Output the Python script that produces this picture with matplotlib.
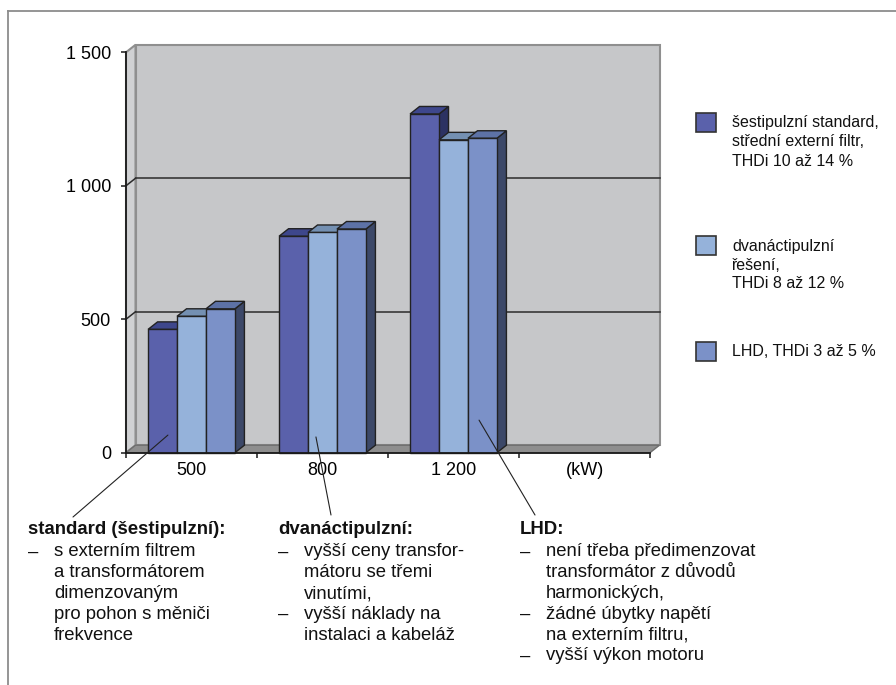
import matplotlib
matplotlib.use("Agg")
import matplotlib.pyplot as plt
from matplotlib.patches import Polygon, Rectangle
from matplotlib.lines import Line2D

plt.rcParams['font.family'] = ['Liberation Sans', 'DejaVu Sans']

# ---- data -------------------------------------------------------------
power_labels = ["500", "800", "1 200"]
unit_label = "(kW)"
series_labels = [
    "šestipulzní standard,\nstřední externí filtr,\nTHDi 10 až 14 %",
    "dvanáctipulzní\nřešení,\nTHDi 8 až 12 %",
    "LHD, THDi 3 až 5 %",
]
six_pulse_vals = [462, 811, 1269]
twelve_pulse_vals = [511, 825, 1172]
lhd_vals = [539, 838, 1178]
y_ticks = [0, 500, 1000, 1500]
y_tick_labels = ["0", "500", "1 000", "1 500"]

notes_standard = ["standard (šestipulzní):",
                  "–\ts externím filtrem", "\ta transformátorem", "\tdimenzovaným",
                  "\tpro pohon s měniči", "\tfrekvence"]
notes_twelve = ["dvanáctipulzní:",
                "–\tvyšší ceny transfor-", "\tmátoru se třemi", "\tvinutími,",
                "–\tvyšší náklady na", "\tinstalaci a kabeláž"]
notes_lhd = ["LHD:",
             "–\tnení třeba předimenzovat", "\ttransformátor z důvodů", "\tharmonických,",
             "–\tžádné úbytky napětí", "\tna externím filtru,", "–\tvyšší výkon motoru"]

# ---- styling ----------------------------------------------------------
front_colors = ["#5a61ab", "#95b2da", "#7b91c8"]
top_colors = ["#3e478c", "#7490b2", "#5d72a6"]
side_colors = ["#2c3262", "#5b6f92", "#3c4868"]
edge = "#222222"

W, H = 896, 685
fig = plt.figure(figsize=(W / 100, H / 100), dpi=100)


def fx(px):
    return px / W


def fy(py):
    return 1 - py / H


ax = fig.add_axes([fx(126), fy(452.7), 524 / W, 400.4 / H])
ncat = len(power_labels) + 1
x0, x1 = -0.5, ncat - 0.5
ax.set_xlim(x0, x1)
ax.set_ylim(y_ticks[0], y_ticks[-1])
ax.patch.set_visible(False)
for name, sp in ax.spines.items():
    if name in ("left", "bottom"):
        sp.set_color("#1a1a1a")
        sp.set_linewidth(1.3)
        sp.set_zorder(20)
    else:
        sp.set_visible(False)

# depth of the pseudo-3D box, converted to data units
o = ax.transData.transform((0, 0))
dpt = ax.transData.inverted().transform((o[0] + 9.5, o[1] + 7.5))
dx, dy = dpt[0], dpt[1]
ytop = y_ticks[-1]

wall_edge = "#8f8f8f"
ax.add_patch(Rectangle((x0 + dx, dy), x1 - x0, ytop, facecolor="#c6c7c9",
                       edgecolor=wall_edge, lw=1.5, zorder=0, clip_on=False))
ax.add_patch(Polygon([(x0, 0), (x0, ytop), (x0 + dx, ytop + dy), (x0 + dx, dy)],
                     closed=True, facecolor="#d0d1d3", edgecolor=wall_edge, lw=1.5,
                     zorder=0.5, clip_on=False))
ax.add_patch(Polygon([(x0, 0), (x1, 0), (x1 + dx, dy), (x0 + dx, dy)],
                     closed=True, facecolor="#8e8e8e", edgecolor="#6e6e6e", lw=1.0,
                     zorder=1, clip_on=False))
for v in y_ticks[1:-1]:
    ax.plot([x0 + dx, x1 + dx], [v + dy, v + dy], color="#2b2b2b", lw=1.1,
            zorder=1, clip_on=False)
    ax.plot([x0, x0 + dx], [v, v + dy], color="#2b2b2b", lw=1.1, zorder=1,
            clip_on=False)

# bars
series = [six_pulse_vals, twelve_pulse_vals, lhd_vals]
w = 0.221
offsets = [-w, 0, w]
cat_x = list(range(len(power_labels)))
for s, vals in enumerate(series):
    zb = 3 + 2 * s
    for i, h in zip(cat_x, vals):
        xl = i + offsets[s] - w / 2
        xr = xl + w
        ax.add_patch(Polygon([(xr, 0), (xr, h), (xr + dx, h + dy), (xr + dx, dy)],
                             closed=True, facecolor=side_colors[s], edgecolor=edge,
                             lw=1.0, zorder=zb, clip_on=False))
        ax.add_patch(Polygon([(xl, h), (xr, h), (xr + dx, h + dy), (xl + dx, h + dy)],
                             closed=True, facecolor=top_colors[s], edgecolor=edge,
                             lw=1.0, zorder=zb, clip_on=False))
    ax.bar([i + offsets[s] for i in cat_x], vals, width=w, color=front_colors[s],
           edgecolor=edge, linewidth=1.0, zorder=zb + 1, clip_on=False)

# axes ticks
ax.set_yticks(y_ticks, y_tick_labels)
ax.set_xticks([x0 + k for k in range(ncat + 1)], [""] * (ncat + 1))
ax.set_xticks(list(range(ncat)), power_labels + [unit_label], minor=True)
ax.tick_params(axis="both", which="major", direction="out", length=3.8, width=1.1,
               color="#1a1a1a", labelsize=13, pad=7)
ax.tick_params(axis="x", which="minor", length=0, labelsize=13, pad=7)
ax.get_xticklabels(minor=True)[-1].set_x(2.97)

# legend
leg_x = 696
leg_rows = [113, 236, 342]
for s, (lab, ytop_px) in enumerate(zip(series_labels, leg_rows)):
    fig.add_artist(Rectangle((fx(leg_x), fy(ytop_px + 19)), 20 / W, 19 / H,
                             transform=fig.transFigure, facecolor=front_colors[s],
                             edgecolor="#333333", lw=1.2))
    for k, line in enumerate(lab.split("\n")):
        fig.text(fx(732), fy(ytop_px + 10 + 19 * k), line, fontsize=11.5,
                 ha="left", va="center", color="#111111")

# notes below the chart
line_h = 20.8
for col_x, notes in [(28, notes_standard), (278, notes_twelve), (520, notes_lhd)]:
    fig.text(fx(col_x), fy(530), notes[0], fontsize=13.4, fontweight="bold",
             ha="left", va="center", color="#111111")
    for k, line in enumerate(notes[1:]):
        bullet, body = line.split("\t")
        yy = fy(552 + line_h * k)
        if bullet:
            fig.text(fx(col_x), yy, bullet, fontsize=13.3, ha="left", va="center",
                     color="#111111")
        fig.text(fx(col_x + 26), yy, body, fontsize=13.3, ha="left", va="center",
                 color="#111111")

# leader lines from notes to bars
leaders = [((-0.18, 66), (73, 517)), ((0.95, 59), (331, 515)), ((2.195, 122), (535, 515))]
for (xd, yd), (px, py) in leaders:
    ax.annotate("", xy=(xd, yd), xycoords="data", xytext=(fx(px), fy(py)),
                textcoords="figure fraction",
                arrowprops=dict(arrowstyle="-", color="#222222", lw=0.8,
                                shrinkA=0, shrinkB=0), zorder=30,
                annotation_clip=False)

# frame
fig.add_artist(Line2D([fx(8), fx(W)], [fy(11), fy(11)], transform=fig.transFigure,
                      color="#8c8c8c", lw=1.3))
fig.add_artist(Line2D([fx(8), fx(8)], [fy(11), fy(H)], transform=fig.transFigure,
                      color="#8c8c8c", lw=1.3))

fig.savefig("out.png", dpi=100)
